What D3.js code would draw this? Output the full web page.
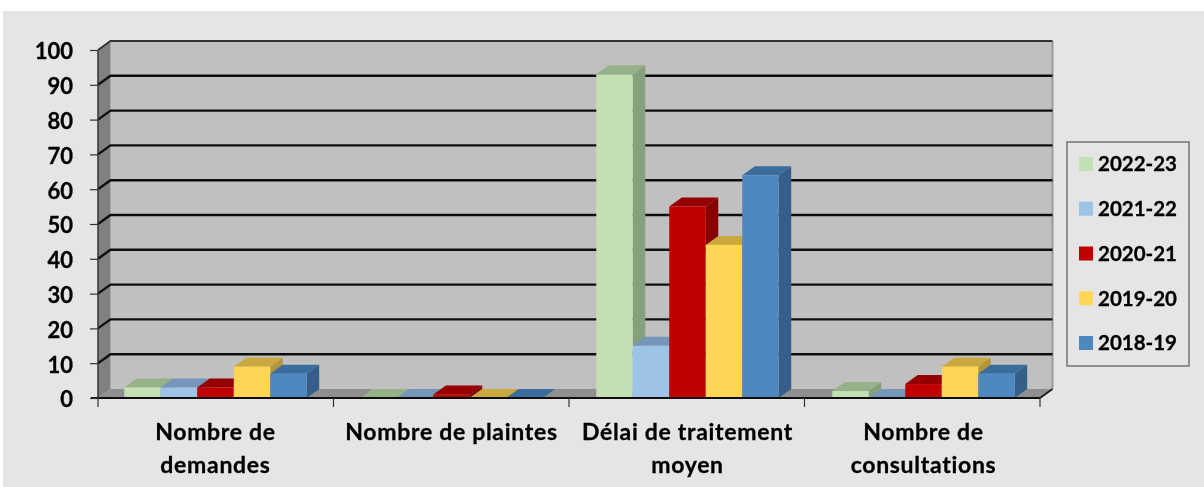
<!DOCTYPE html>
<html>
<head>
<meta charset="utf-8">
<script src="https://cdn.jsdelivr.net/npm/d3@7"></script>
<style>
  html, body { margin: 0; padding: 0; background: #fff; }
  svg { display: block; }
  text { stroke: #000; stroke-width: 0.3px; }
</style>
</head>
<body>
<div id="chart"></div>
<script>
const categories = ["Nombre de demandes", "Nombre de plaintes", "Délai de traitement moyen", "Nombre de consultations"];
const seriesNames = ["2022-23", "2021-22", "2020-21", "2019-20", "2018-19"];
const values2022 = [3, 0, 93, 2];
const values2021 = [3, 0, 15, 0];
const values2020 = [3, 1, 55, 4];
const values2019 = [9, 0, 44, 9];
const values2018 = [7, 0, 64, 7];
const seriesValues = [values2022, values2021, values2020, values2019, values2018];
const yTicks = [0, 10, 20, 30, 40, 50, 60, 70, 80, 90, 100];

// front, top, side shades per series
const colors = [
  ["#c4e0b2", "#97b189", "#86a07b"],
  ["#9dc3e6", "#7596ba", "#6a8bb0"],
  ["#c00000", "#960000", "#860000"],
  ["#ffd555", "#c9a841", "#b4953a"],
  ["#5087c0", "#3b6c9e", "#355f88"]
];

const width = 1204, height = 487;
const depthX = 12.5, depthY = 9; // oblique offset of the 3d box
const fontFamily = "Lato, 'Open Sans', sans-serif";

const x = d3.scaleBand().domain(categories).range([97.5, 1041.5]).paddingInner(0.227).paddingOuter(0.1135);
const xTicks = d3.scaleLinear().domain([0, categories.length]).range([98, 1040]);
const xSeries = d3.scaleBand().domain(seriesNames).range([0, x.bandwidth()]);
const y = d3.scaleLinear().domain([0, 100]).range([398, 50]);

const root = d3.select("#chart").append("svg")
  .attr("width", width)
  .attr("height", height);

// the reference is a slightly soft screenshot
root.append("defs").append("filter")
  .attr("id", "soft")
  .attr("filterUnits", "userSpaceOnUse")
  .attr("x", 0).attr("y", 0).attr("width", width).attr("height", height)
  .append("feGaussianBlur").attr("stdDeviation", 0.45);

const svg = root.append("g")
  .attr("filter", "url(#soft)")
  .attr("font-family", fontFamily)
  .attr("font-weight", 700);

const poly = (pts) => pts.map((p) => p.join(",")).join(" ");

// panel
svg.append("rect").attr("x", 3).attr("y", 11).attr("width", width - 3).attr("height", height - 11).attr("fill", "#e5e5e5");

const x0 = xTicks(0), x1 = xTicks(categories.length);
const walls = svg.append("g");

// back wall, side wall, floor
walls.append("polygon")
  .attr("points", poly([[x0 + depthX, y(100) - depthY], [x1 + depthX, y(100) - depthY], [x1 + depthX, y(0) - depthY], [x0 + depthX, y(0) - depthY]]))
  .attr("fill", "#c0c0c0");
walls.append("polygon")
  .attr("points", poly([[x0, y(100)], [x0 + depthX, y(100) - depthY], [x0 + depthX, y(0) - depthY], [x0, y(0)]]))
  .attr("fill", "#808080");
walls.append("polygon")
  .attr("points", poly([[x0, y(0)], [x0 + depthX, y(0) - depthY], [x1 + depthX, y(0) - depthY], [x1, y(0)]]))
  .attr("fill", "#8f8f8f");
walls.append("line")
  .attr("x1", x1 + depthX).attr("x2", x1 + depthX)
  .attr("y1", y(100) - depthY).attr("y2", y(0) - depthY)
  .attr("stroke", "#999").attr("stroke-width", 2);

// gridlines: along the back wall, then down the side wall
walls.selectAll("polyline.grid")
  .data(yTicks.filter((d) => d > 0))
  .join("polyline")
  .attr("class", "grid")
  .attr("fill", "none")
  .attr("stroke", (d) => (d === 100 ? "#333" : "#111"))
  .attr("stroke-width", (d) => (d === 100 ? 1.8 : 2.4))
  .attr("points", (d) => poly([[x0, y(d)], [x0 + depthX, y(d) - depthY], [x1 + depthX, y(d) - depthY]]));

// bars
const cats = svg.append("g").selectAll("g")
  .data(categories)
  .join("g")
  .attr("transform", (c) => `translate(${x(c)},0)`);

const bars = cats.selectAll("g")
  .data((c, ci) => seriesNames.map((s, si) => ({ s, si, v: seriesValues[si][ci] })))
  .join("g");

bars.append("polygon")
  .attr("fill", (d) => colors[d.si][1])
  .attr("points", (d) => {
    const l = xSeries(d.s), r = l + xSeries.bandwidth(), t = y(d.v);
    return poly([[l, t], [l + depthX, t - depthY], [r + depthX, t - depthY], [r, t]]);
  });
bars.append("polygon")
  .attr("fill", (d) => colors[d.si][2])
  .attr("points", (d) => {
    const r = xSeries(d.s) + xSeries.bandwidth(), t = y(d.v);
    return poly([[r, t], [r + depthX, t - depthY], [r + depthX, y(0) - depthY], [r, y(0)]]);
  });
bars.append("rect")
  .attr("fill", (d) => colors[d.si][0])
  .attr("x", (d) => xSeries(d.s))
  .attr("y", (d) => y(d.v))
  .attr("width", xSeries.bandwidth())
  .attr("height", (d) => y(0) - y(d.v));

// front edges of the box
svg.append("line")
  .attr("x1", x0 - 7).attr("x2", x1).attr("y1", y(0)).attr("y2", y(0))
  .attr("stroke", "#111").attr("stroke-width", 2);
svg.append("line")
  .attr("x1", x0).attr("x2", x0).attr("y1", y(100)).attr("y2", y(0))
  .attr("stroke", "#333").attr("stroke-width", 1.5);
svg.append("polyline")
  .attr("fill", "none").attr("stroke", "#1e1e1e").attr("stroke-width", 1.8)
  .attr("points", poly([[x1, y(0)], [x1 + depthX, y(0) - depthY]]));

// y axis
const yAxis = svg.append("g")
  .attr("transform", `translate(${x0},0)`)
  .call(d3.axisLeft(y).tickValues(yTicks).tickSize(8).tickPadding(17));
yAxis.select(".domain").remove();
yAxis.selectAll("line").attr("stroke", "#333").attr("stroke-width", 1.2);
yAxis.selectAll("text")
  .attr("fill", "#000")
  .attr("font-family", fontFamily)
  .attr("font-weight", 700)
  .attr("font-size", 22)
  .attr("dy", "0.4em");

// category ticks
svg.append("g").selectAll("line")
  .data(d3.range(categories.length + 1))
  .join("line")
  .attr("x1", (i) => xTicks(i)).attr("x2", (i) => xTicks(i))
  .attr("y1", y(0)).attr("y2", y(0) + 9)
  .attr("stroke", "#333").attr("stroke-width", 1.2);

// category labels, wrapped to the band
const catLabels = svg.append("g").selectAll("text")
  .data(categories)
  .join("text")
  .attr("text-anchor", "middle")
  .attr("font-size", 23)
  .attr("letter-spacing", 0.7)
  .attr("fill", "#000")
  .attr("y", 440);

catLabels.each(function (c) {
  const text = d3.select(this);
  const cx = x(c) + x.bandwidth() / 2;
  let line = [];
  let tspan = text.append("tspan").attr("x", cx);
  c.split(" ").forEach((w) => {
    line.push(w);
    tspan.text(line.join(" "));
    if (tspan.node().getComputedTextLength() > 225 && line.length > 1) {
      line.pop();
      tspan.text(line.join(" "));
      line = [w];
      tspan = text.append("tspan").attr("x", cx).attr("dy", 32.5).text(w);
    }
  });
});

// legend
const legendY = d3.scalePoint().domain(seriesNames).range([164, 343]);
svg.append("rect")
  .attr("x", 1067).attr("y", 142).attr("width", 122).attr("height", 224)
  .attr("fill", "none").attr("stroke", "#555").attr("stroke-width", 1.2);
const legendItems = svg.append("g").selectAll("g")
  .data(seriesNames)
  .join("g")
  .attr("transform", (s) => `translate(1079,${legendY(s)})`);
legendItems.append("rect")
  .attr("y", -7).attr("width", 14).attr("height", 14)
  .attr("fill", (s, i) => colors[i][0]);
legendItems.append("text")
  .attr("x", 19).attr("dy", "0.36em")
  .attr("font-size", 20.5)
  .attr("fill", "#000")
  .text((s) => s);
</script>
</body>
</html>
